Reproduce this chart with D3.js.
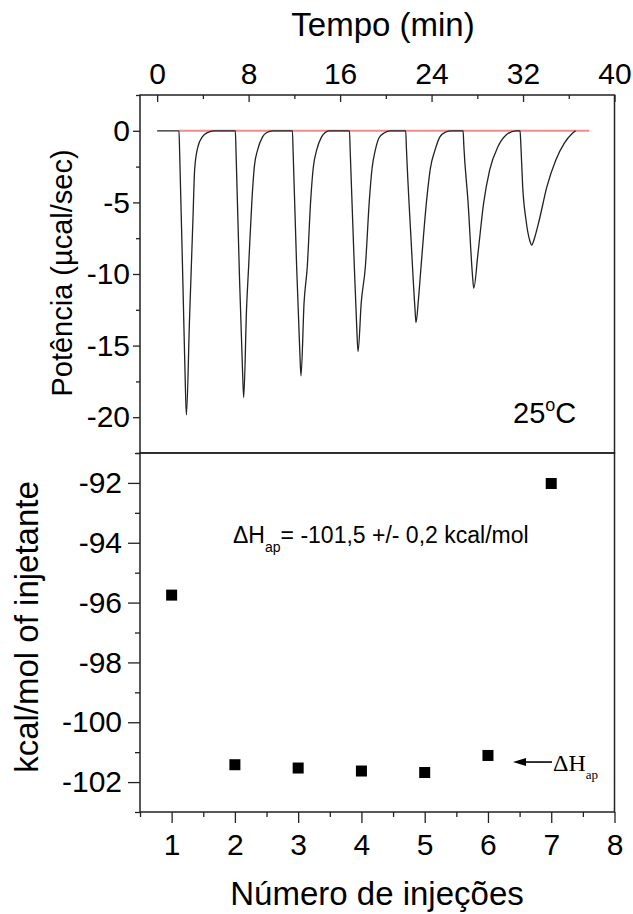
<!DOCTYPE html>
<html>
<head>
<meta charset="utf-8">
<script src="https://cdn.jsdelivr.net/npm/d3@7/dist/d3.min.js"></script>
<style>
  html, body { margin: 0; padding: 0; background: #fff; }
  svg { display: block; font-family: "Liberation Sans", Arial, sans-serif; }
</style>
</head>
<body>
<svg id="chart" width="633" height="914"></svg>
<script>
// ---------- DATA ----------
const timeTicks = [0, 8, 16, 24, 32, 40];
const timeMinorTicks = [4, 12, 20, 28, 36];
const powerTicks = [0, -5, -10, -15, -20];
const powerMinorTicks = [2.5, -2.5, -7.5, -12.5, -17.5, -22.5];

// ITC raw trace (time in min, power in µcal/sec)
const traceTime = [
  0, 1.91, 1.97, 2.26, 2.47, 2.56, 2.83, 3.13, 3.28, 3.57, 3.95, 4.35, 5.0,
  6.84, 6.90, 7.20, 7.47, 7.57, 7.82, 8.00, 8.29, 8.50, 8.78, 9.22, 9.60, 10.09,
  11.83, 11.89, 12.20, 12.48, 12.58, 12.85, 13.13, 13.43, 13.65, 13.95, 14.38, 14.70, 15.02,
  16.82, 16.88, 17.20, 17.47, 17.57, 17.85, 18.21, 18.56, 18.80, 19.08, 19.40, 19.85, 20.40,
  21.74, 21.80, 22.20, 22.54, 22.64, 22.85, 23.08, 23.57, 23.90, 24.30, 24.73, 25.20, 25.74,
  26.76, 26.82, 27.20, 27.58, 27.69, 28.06, 28.55, 29.08, 29.80, 30.52, 31.37,
  31.74, 31.80, 31.97, 32.26, 32.60, 32.76, 33.00, 33.42, 34.09, 34.87, 35.60, 36.30, 36.60
];
const tracePower = [
  0, 0, -1.6, -10.9, -17.9, -19.84, -13.2, -6.2, -2.7, -1.1, -0.42, -0.14, 0,
  0, -1.5, -10.2, -16.8, -18.63, -12.4, -9.49, -4.84, -2.5, -1.35, -0.42, -0.12, 0,
  0, -1.4, -9.5, -15.5, -17.12, -12.0, -9.49, -4.84, -2.6, -1.35, -0.42, -0.12, 0,
  0, -1.3, -8.5, -14.0, -15.42, -12.0, -9.49, -4.84, -2.6, -1.35, -0.5, -0.15, 0,
  0, -1.2, -7.5, -12.3, -13.4, -11.8, -9.49, -4.84, -2.6, -1.35, -0.42, -0.1, 0,
  0, -1.0, -5.07, -10.1, -11.0, -8.56, -5.07, -2.74, -1.12, -0.3, 0,
  0, -0.8, -3.9, -6.23, -7.7, -7.98, -7.5, -6.23, -3.9, -2.04, -0.88, -0.19, 0
];
const baselineTime = [1.91, 37.8];
const baselinePower = [0, 0];

const injections = [1, 2, 3, 4, 5, 6, 7];
const enthalpy = [-95.75, -101.42, -101.53, -101.63, -101.68, -101.11, -92.02];
const injectionTicks = [1, 2, 3, 4, 5, 6, 7, 8];
const injectionMinorTicks = [0.5, 1.5, 2.5, 3.5, 4.5, 5.5, 6.5, 7.5];
const enthalpyTicks = [-92, -94, -96, -98, -100, -102];
const enthalpyMinorTicks = [-91, -93, -95, -97, -99, -101, -103];

const dhValue = "= -101,5 +/- 0,2 kcal/mol";

// ---------- LAYOUT ----------
const svg = d3.select("#chart");
const L = 140, R = 614.5, T = 95, MID = 453, B = 812;
const axisColor = "#222";
const tickFont = 30;

const xT = d3.scaleLinear().domain([-1.5, 40]).range([L, R]);
const yT = d3.scaleLinear().domain([-22.5, 2.5]).range([MID, T]);
const xB = d3.scaleLinear().domain([0.5, 8]).range([L, R]);
const yB = d3.scaleLinear().domain([-103, -91]).range([B, MID]);

function styleAxis(g, fontSize) {
  g.select(".domain").remove();
  g.selectAll(".tick line").attr("stroke", axisColor).attr("stroke-width", 1.3);
  g.selectAll(".tick text").attr("fill", "#000").attr("font-size", fontSize)
    .attr("font-family", "Liberation Sans, Arial, sans-serif");
}
const fmt = d => String(d);

// ----- Top panel -----
const lineT = d3.line().x(d => xT(d[0])).y(d => yT(d[1]));
svg.append("path")
  .attr("d", lineT(baselineTime.map((t, i) => [t, baselinePower[i]])))
  .attr("fill", "none").attr("stroke", "#f08c8c").attr("stroke-width", 2);

const traceLine = d3.line().x(d => xT(d[0])).y(d => yT(d[1])).curve(d3.curveMonotoneX);
svg.append("path")
  .attr("d", traceLine(traceTime.map((t, i) => [t, tracePower[i]])))
  .attr("fill", "none").attr("stroke", "#222").attr("stroke-width", 1.3);

svg.append("g").attr("transform", `translate(0,${T})`)
  .call(d3.axisTop(xT).tickValues(timeTicks).tickSizeInner(-7).tickSizeOuter(0).tickPadding(11).tickFormat(fmt))
  .call(g => styleAxis(g, tickFont));
svg.append("g").attr("transform", `translate(0,${T})`)
  .call(d3.axisTop(xT).tickValues(timeMinorTicks).tickSizeInner(-4).tickSizeOuter(0).tickFormat(""))
  .call(g => styleAxis(g, 0));

svg.append("g").attr("transform", `translate(${L},0)`)
  .call(d3.axisLeft(yT).tickValues(powerTicks).tickSizeInner(7).tickSizeOuter(0).tickPadding(3).tickFormat(fmt))
  .call(g => styleAxis(g, tickFont));
svg.append("g").attr("transform", `translate(${L},0)`)
  .call(d3.axisLeft(yT).tickValues(powerMinorTicks).tickSizeInner(4).tickSizeOuter(0).tickFormat(""))
  .call(g => styleAxis(g, 0));

// ----- Bottom panel -----
svg.append("g").attr("transform", `translate(0,${B})`)
  .call(d3.axisBottom(xB).tickValues(injectionTicks).tickSizeInner(11).tickSizeOuter(0).tickPadding(11).tickFormat(fmt))
  .call(g => styleAxis(g, tickFont));
svg.append("g").attr("transform", `translate(0,${B})`)
  .call(d3.axisBottom(xB).tickValues(injectionMinorTicks).tickSizeInner(5).tickSizeOuter(0).tickFormat(""))
  .call(g => styleAxis(g, 0));

svg.append("g").attr("transform", `translate(${L},0)`)
  .call(d3.axisLeft(yB).tickValues(enthalpyTicks).tickSizeInner(12).tickSizeOuter(0).tickPadding(6).tickFormat(fmt))
  .call(g => styleAxis(g, tickFont));
svg.append("g").attr("transform", `translate(${L},0)`)
  .call(d3.axisLeft(yB).tickValues(enthalpyMinorTicks).tickSizeInner(5).tickSizeOuter(0).tickFormat(""))
  .call(g => styleAxis(g, 0));

// markers
const sq = 11;
svg.append("g").selectAll("rect").data(injections).join("rect")
  .attr("x", (d) => xB(d) - sq / 2)
  .attr("y", (d, i) => yB(enthalpy[i]) - sq / 2)
  .attr("width", sq).attr("height", sq).attr("fill", "#000");

// frames
svg.append("rect").attr("x", L).attr("y", T).attr("width", R - L).attr("height", MID - T)
  .attr("fill", "none").attr("stroke", axisColor).attr("stroke-width", 1.5);
svg.append("rect").attr("x", L).attr("y", MID).attr("width", R - L).attr("height", B - MID)
  .attr("fill", "none").attr("stroke", axisColor).attr("stroke-width", 1.5);

// ----- Titles -----
svg.append("text").attr("x", 383).attr("y", 36).attr("text-anchor", "middle")
  .attr("font-size", 33).text("Tempo (min)");
svg.append("text").attr("transform", "translate(72,273) rotate(-90)").attr("text-anchor", "middle")
  .attr("font-size", 29).text("Potência (µcal/sec)");
svg.append("text").attr("transform", "translate(38,627) rotate(-90)").attr("text-anchor", "middle")
  .attr("font-size", 33).text("kcal/mol of injetante");
svg.append("text").attr("x", 377).attr("y", 905).attr("text-anchor", "middle")
  .attr("font-size", 33).text("Número de injeções");

// 25°C
const temp = svg.append("text").attr("x", 513).attr("y", 423).attr("font-size", 29);
temp.append("tspan").text("25");
temp.append("tspan").attr("font-size", 18).attr("dy", -12).text("o");
temp.append("tspan").attr("dy", 12).text("C");

// ΔHap annotation
const ann = svg.append("text").attr("x", 233).attr("y", 543).attr("font-size", 23);
ann.append("tspan").text("ΔH");
ann.append("tspan").attr("font-size", 14).attr("dy", 9).text("ap");
ann.append("tspan").attr("dy", -9).text(dhValue);

// arrow + serif label
const arrowY = yB(-101.33);
const tipX = 513, tailX = 552;
svg.append("line").attr("x1", tailX).attr("y1", arrowY).attr("x2", tipX + 8).attr("y2", arrowY)
  .attr("stroke", "#000").attr("stroke-width", 1.6);
svg.append("path")
  .attr("d", `M${tipX},${arrowY} L${tipX + 13},${arrowY - 4} L${tipX + 13},${arrowY + 4} Z`)
  .attr("fill", "#000");
const dh = svg.append("text").attr("x", 553).attr("y", 771)
  .attr("font-family", "Liberation Serif, Times New Roman, serif").attr("font-size", 24);
dh.append("tspan").text("ΔH");
dh.append("tspan").attr("font-size", 13).attr("dy", 8).text("ap");
</script>
</body>
</html>
